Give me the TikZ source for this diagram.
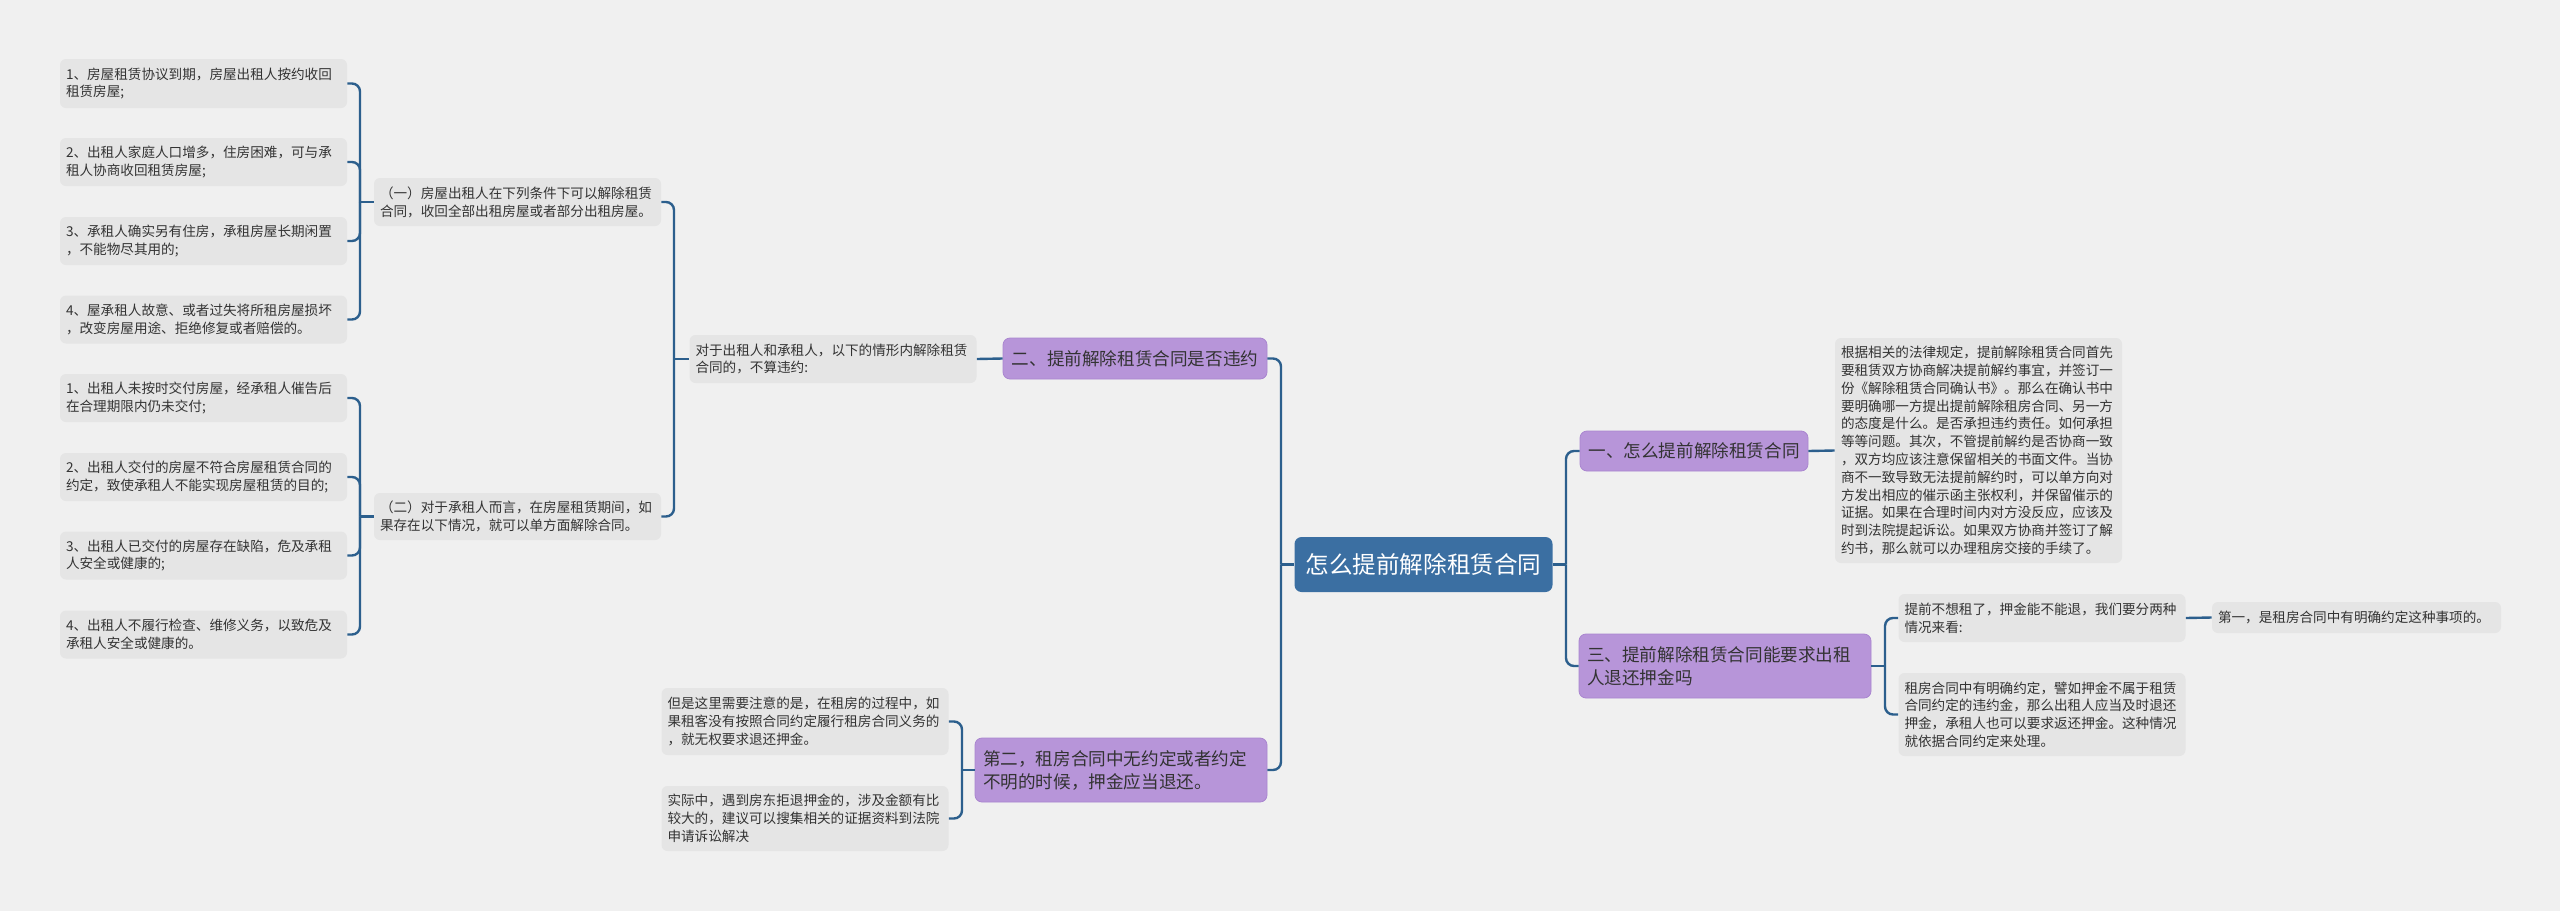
\documentclass[tikz,border=0pt]{standalone}
\usepackage{fontspec}
\setmainfont{Noto Sans CJK SC}
\usetikzlibrary{calc}
\definecolor{bg}{HTML}{F0F0F0}
\definecolor{leafgray}{HTML}{E5E5E5}
\definecolor{purp}{HTML}{B795D9}
\definecolor{purpd}{HTML}{A985CF}
\definecolor{rootblue}{HTML}{3B6FA2}
\definecolor{linec}{HTML}{2C5F8D}
\definecolor{txt}{HTML}{333333}
\tikzset{
  leaf/.style={fill=leafgray, rounded corners=3pt, inner xsep=3pt, inner ysep=0pt,
    text width=137.5pt, align=left, text=txt,
    font=\fontsize{6.8pt}{8.9pt}\selectfont},
  topic/.style={fill=purp, draw=purpd, line width=0.4pt, rounded corners=3.5pt, inner xsep=4pt, inner ysep=0pt,
    text=txt, font=\fontsize{8.8pt}{11.5pt}\selectfont},
  rootn/.style={fill=rootblue, rounded corners=3.5pt, inner sep=0pt, text=white,
    font=\fontsize{11.8pt}{14pt}\selectfont},
  conn/.style={draw=linec, line width=1.2pt, rounded corners=4pt},
}
\begin{document}
\begin{tikzpicture}[x=0.5pt,y=-0.5pt]
\fill[bg] (0,0) rectangle (2560,911);
\useasboundingbox (0,0) rectangle (2560,911);

% left group 1
\node[leaf, minimum height=24.5pt] (L1) at (203.5,83.5) {1、房屋租赁协议到期，房屋出租人按约收回\\租赁房屋;};
\node[leaf, minimum height=24pt] (L2) at (203.5,162) {2、出租人家庭人口增多，住房困难，可与承\\租人协商收回租赁房屋;};
\node[leaf, minimum height=24pt] (L3) at (203.5,241) {3、承租人确实另有住房，承租房屋长期闲置\\，不能物尽其用的;};
\node[leaf, minimum height=24pt] (L4) at (203.5,319.5) {4、屋承租人故意、或者过失将所租房屋损坏\\，改变房屋用途、拒绝修复或者赔偿的。};
% left group 2
\node[leaf, minimum height=24pt] (L5) at (203.5,398) {1、出租人未按时交付房屋，经承租人催告后\\在合理期限内仍未交付;};
\node[leaf, minimum height=24pt] (L6) at (203.5,477) {2、出租人交付的房屋不符合房屋租赁合同的\\约定，致使承租人不能实现房屋租赁的目的;};
\node[leaf, minimum height=24pt] (L7) at (203.5,555.5) {3、出租人已交付的房屋存在缺陷，危及承租\\人安全或健康的;};
\node[leaf, minimum height=24pt] (L8) at (203.5,634.5) {4、出租人不履行检查、维修义务，以致危及\\承租人安全或健康的。};

\node[leaf, minimum height=24pt] (N1) at (517.5,202) {（一）房屋出租人在下列条件下可以解除租赁\\合同，收回全部出租房屋或者部分出租房屋。};
\node[leaf, minimum height=23.5pt] (N2) at (517.5,516.5) {（二）对于承租人而言，在房屋租赁期间，如\\果存在以下情况，就可以单方面解除合同。};

\node[leaf, minimum height=24pt] (D) at (833,359) {对于出租人和承租人，以下的情形内解除租赁\\合同的，不算违约:};
\node[topic, minimum width=132pt, minimum height=20.5pt] (T2) at (1135,358.5) {二、提前解除租赁合同是否违约};

\node[rootn, minimum width=129pt, minimum height=27.5pt] (R) at (1423.5,564.5) {怎么提前解除租赁合同};

\node[topic, minimum width=146pt, minimum height=32pt, text width=138pt, align=left] (T4) at (1121,770) {第二，租房合同中无约定或者约定\\不明的时候，押金应当退还。};
\node[leaf, minimum height=33.5pt] (B1) at (805,721.5) {但是这里需要注意的是，在租房的过程中，如\\果租客没有按照合同约定履行租房合同义务的\\，就无权要求退还押金。};
\node[leaf, minimum height=32.5pt] (B2) at (805,818.5) {实际中，遇到房东拒退押金的，涉及金额有比\\较大的，建议可以搜集相关的证据资料到法院\\申请诉讼解决};

% right side
\node[topic, minimum width=114pt, minimum height=20pt] (T1) at (1694,451) {一、怎么提前解除租赁合同};
\node[leaf, minimum height=112.5pt] (RT) at (1978.5,450.5) {根据相关的法律规定，提前解除租赁合同首先\\要租赁双方协商解决提前解约事宜，并签订一\\份《解除租赁合同确认书》。那么在确认书中\\要明确哪一方提出提前解除租房合同、另一方\\的态度是什么。是否承担违约责任。如何承担\\等等问题。其次，不管提前解约是否协商一致\\，双方均应该注意保留相关的书面文件。当协\\商不一致导致无法提前解约时，可以单方向对\\方发出相应的催示函主张权利，并保留催示的\\证据。如果在合理时间内对方没反应，应该及\\时到法院提起诉讼。如果双方协商并签订了解\\约书，那么就可以办理租房交接的手续了。};

\node[topic, minimum width=146pt, minimum height=32pt, text width=138pt, align=left] (T3) at (1725,666) {三、提前解除租赁合同能要求出租\\人退还押金吗};
\node[leaf, minimum height=24pt] (C1) at (2042,618) {提前不想租了，押金能不能退，我们要分两种\\情况来看:};
\node[leaf, minimum height=41.5pt] (C2) at (2042,714.5) {租房合同中有明确约定，譬如押金不属于租赁\\合同约定的违约金，那么出租人应当及时退还\\押金，承租人也可以要求返还押金。这种情况\\就依据合同约定来处理。};
\node[leaf, minimum height=15.5pt, text width=138.5pt] (C3) at (2356.5,617.5) {第一，是租房合同中有明确约定这种事项的。};

% junctions
\coordinate (j1) at (360,202);
\coordinate (j2) at (360,516.5);
\coordinate (j3) at (674,359);
\coordinate (j4) at (962,770);
\coordinate (jl) at (1281,564.5);
\coordinate (jr) at (1566,564.5);
\coordinate (j5) at (1885,666);

% connectors
\foreach \n in {L1,L2,L3,L4} \draw[conn] (\n.east) -| (j1);
\draw[conn] (j1) -- (N1.west);
\foreach \n in {L5,L6,L7,L8} \draw[conn] (\n.east) -| (j2);
\draw[conn] (j2) -- (N2.west);
\foreach \n in {N1,N2} \draw[conn] (\n.east) -| (j3);
\draw[conn] (j3) -- (D.west);
\draw[conn] (D.east) -- (T2.west);
\foreach \n in {B1,B2} \draw[conn] (\n.east) -| (j4);
\draw[conn] (j4) -- (T4.west);
\foreach \n in {T2,T4} \draw[conn] (\n.east) -| (jl);
\draw[conn] (jl) -- (R.west);
\draw[conn] (R.east) -- (jr);
\foreach \n in {T1,T3} \draw[conn] (\n.west) -| (jr);
\draw[conn] (T1.east) -- (RT.west);
\draw[conn] (T3.east) -- (j5);
\foreach \n in {C1,C2} \draw[conn] (\n.west) -| (j5);
\draw[conn] (C1.east) -- (C3.west);
\end{tikzpicture}
\end{document}
